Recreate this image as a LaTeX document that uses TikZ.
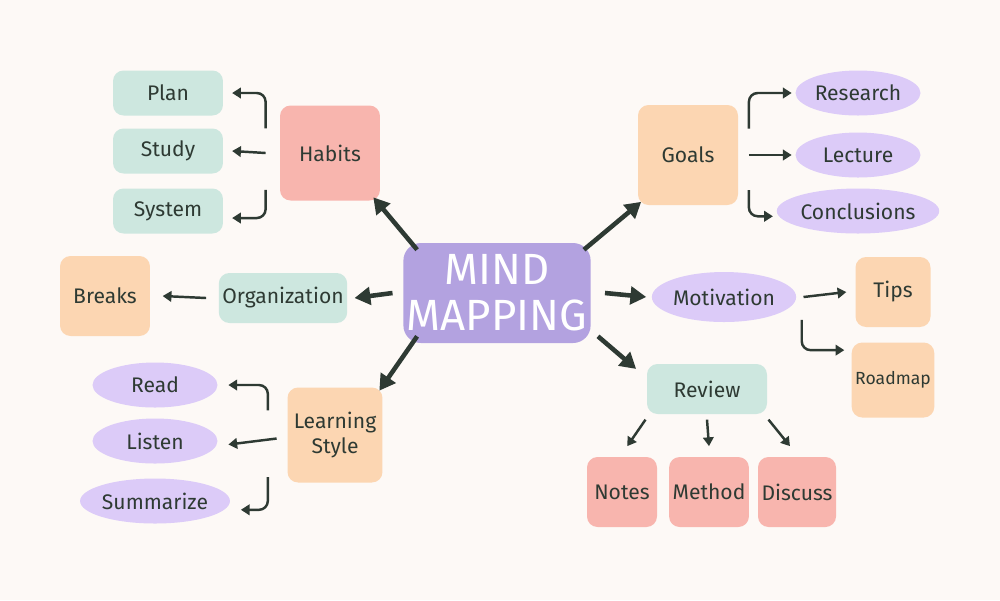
\documentclass[tikz,border=0pt]{standalone}
\usepackage{fontspec}
\setmainfont{Fira Sans}
\usetikzlibrary{arrows.meta,shapes.geometric}
\definecolor{bgc}{HTML}{FDF9F6}
\definecolor{purp}{HTML}{B3A2E0}
\definecolor{pinkc}{HTML}{F8B5AE}
\definecolor{peach}{HTML}{FCD6B2}
\definecolor{mint}{HTML}{CDE7DF}
\definecolor{lav}{HTML}{DCCBF8}
\definecolor{ink}{HTML}{2E3A33}
\tikzset{
  box/.style={rounded corners=6pt,inner sep=2pt,align=center,font=\large,text=ink},
  pinkbox/.style={box,fill=pinkc},
  peachbox/.style={box,fill=peach},
  mintbox/.style={box,fill=mint},
  oval/.style={ellipse,fill=lav,inner sep=0pt,font=\large,text=ink},
  bigarr/.style={-{Triangle[length=9pt,width=10pt]},line width=2.6pt,draw=ink},
  sarr/.style={-{Triangle[length=5pt,width=6pt]},line width=1.4pt,draw=ink,rounded corners=5pt}
}
\begin{document}
\begin{tikzpicture}[x=0.02cm,y=-0.02cm]
\fill[bgc] (0,0) rectangle (1000,600);
\useasboundingbox (0,0) rectangle (1000,600);

% center
\node[box,fill=purp,text=white,font=\Huge,minimum width=3.2cm,minimum height=2cm,rounded corners=10pt] (mind) at (497,293) {MIND\\[-4pt]MAPPING};

% habits branch
\node[pinkbox,minimum width=2cm,minimum height=1.9cm] (habits) at (330,153) {Habits};
\node[mintbox,minimum width=2.2cm,minimum height=0.9cm] (plan) at (168,93) {Plan};
\node[mintbox,minimum width=2.2cm,minimum height=0.9cm] (study) at (168,151) {Study};
\node[mintbox,minimum width=2.2cm,minimum height=0.9cm] (system) at (168,211) {System};

% goals branch
\node[peachbox,minimum width=2cm,minimum height=2cm] (goals) at (688,155) {Goals};
\node[oval,minimum width=2.5cm,minimum height=0.9cm] (research) at (858,93) {Research};
\node[oval,minimum width=2.5cm,minimum height=0.9cm] (lecture) at (858,155) {Lecture};
\node[oval,minimum width=2.5cm,minimum height=0.9cm] (concl) at (858,211) {Conclusions};

% organization branch
\node[mintbox,minimum width=2.5cm,minimum height=1cm] (org) at (283,298) {Organization};
\node[peachbox,minimum width=1.8cm,minimum height=1.6cm] (breaks) at (105,296) {Breaks};

% motivation branch
\node[oval,minimum width=2.7cm,minimum height=1cm] (motiv) at (724,297) {Motivation};
\node[peachbox,minimum width=1.5cm,minimum height=1.4cm] (tips) at (893,292) {Tips};
\node[peachbox,minimum width=1.5cm,minimum height=1.5cm,font=\normalsize] (road) at (893,380) {Roadmap};

% learning style branch
\node[peachbox,minimum width=1.9cm,minimum height=1.9cm] (learn) at (335,435) {Learning\\Style};
\node[oval,minimum width=2.5cm,minimum height=0.9cm] (read) at (155,385) {Read};
\node[oval,minimum width=2.5cm,minimum height=0.9cm] (listen) at (155,441) {Listen};
\node[oval,minimum width=2.5cm,minimum height=0.9cm] (summ) at (155,501) {Summarize};

% review branch
\node[mintbox,minimum width=2.4cm,minimum height=1cm] (review) at (707,389) {Review};
\node[pinkbox,minimum width=1.4cm,minimum height=1.4cm] (notes) at (622,492) {Notes};
\node[pinkbox,minimum width=1.4cm,minimum height=1.4cm] (method) at (709,492) {Method};
\node[pinkbox,minimum width=1.4cm,minimum height=1.4cm] (discuss) at (797,492) {Discuss};

% main arrows
\draw[bigarr] ([xshift=8pt,yshift=-4pt]mind.north west) -- ([xshift=-4pt,yshift=2pt]habits.south east);
\draw[bigarr] ([xshift=-4pt,yshift=-4pt]mind.north east) -- ([xshift=2pt,yshift=2pt]goals.south west);
\draw[bigarr] ([xshift=-6pt]mind.west) -- ([xshift=4pt]org.east);
\draw[bigarr] ([xshift=8pt,yshift=4pt]mind.south west) -- ([xshift=-2pt,yshift=-2pt]learn.north east);
\draw[bigarr] ([xshift=8pt]mind.east) -- ([xshift=-3pt]motiv.west);
\draw[bigarr] ([xshift=4pt,yshift=4pt]mind.south east) -- ([xshift=-6pt,yshift=-3pt]review.north west);

% small arrows
\draw[sarr] ([xshift=-8pt,yshift=14pt]habits.west) |- ([xshift=5pt]plan.east);
\draw[sarr] ([xshift=-8pt]habits.west) -- ([xshift=5pt]study.east);
\draw[sarr] ([xshift=-8pt,yshift=-21pt]habits.west) |- ([xshift=5pt,yshift=-4pt]system.east);
\draw[sarr] ([xshift=6pt,yshift=15pt]goals.east) |- ([xshift=-2pt]research.west);
\draw[sarr] ([xshift=6pt]goals.east) -- ([xshift=-2pt]lecture.west);
\draw[sarr] ([xshift=6pt,yshift=-20pt]goals.east) |- ([xshift=-2pt,yshift=-3pt]concl.west);
\draw[sarr] ([xshift=-7pt]org.west) -- ([xshift=7pt]breaks.east);
\draw[sarr] ([xshift=4pt]motiv.east) -- ([xshift=-5pt]tips.west);
\draw[sarr] ([xshift=3pt,yshift=-13pt]motiv.east) |- ([xshift=-4pt,yshift=17pt]road.west);
\draw[sarr] ([xshift=-11pt,yshift=14pt]learn.west) |- ([xshift=6pt]read.east);
\draw[sarr] ([xshift=-6pt,yshift=-2pt]learn.west) -- ([xshift=6pt,yshift=-2pt]listen.east);
\draw[sarr] ([xshift=-11pt,yshift=-24pt]learn.west) |- ([xshift=6pt,yshift=-5pt]summ.east);
\draw[sarr] ([xshift=-35pt,yshift=-3pt]review.south) -- ([xshift=3pt,yshift=6pt]notes.north);
\draw[sarr] ([yshift=-3pt]review.south) -- ([yshift=6pt]method.north);
\draw[sarr] ([xshift=35pt,yshift=-3pt]review.south) -- ([xshift=-4pt,yshift=6pt]discuss.north);
\end{tikzpicture}
\end{document}
